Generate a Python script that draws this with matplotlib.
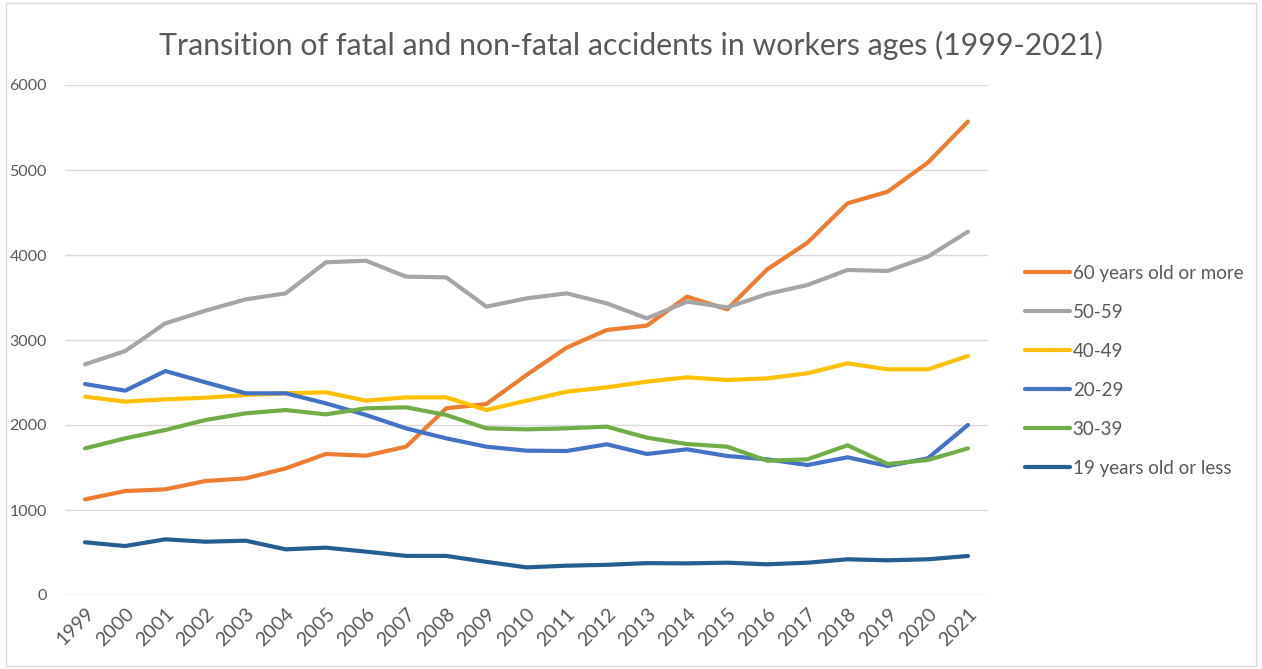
import matplotlib
matplotlib.use('Agg')
import matplotlib.pyplot as plt
from matplotlib.patches import Rectangle

plt.rcParams['font.family'] = ['Lato', 'DejaVu Sans']

years = [str(y) for y in range(1999, 2022)]

age_60_more = [1125, 1223, 1243, 1341, 1372, 1490, 1659, 1639, 1745, 2196, 2247, 2588,
               2910, 3118, 3169, 3510, 3361, 3831, 4145, 4608, 4745, 5086, 5570]
age_50_59 = [2714, 2870, 3196, 3345, 3478, 3549, 3914, 3933, 3745, 3737, 3392, 3490,
             3549, 3431, 3255, 3451, 3384, 3541, 3647, 3824, 3812, 3980, 4274]
age_40_49 = [2333, 2275, 2302, 2321, 2353, 2373, 2385, 2286, 2325, 2325, 2176, 2286,
             2392, 2443, 2510, 2561, 2529, 2549, 2608, 2726, 2655, 2655, 2812]
age_20_29 = [2482, 2404, 2635, 2502, 2373, 2373, 2255, 2118, 1960, 1843, 1745, 1698,
             1694, 1773, 1659, 1714, 1635, 1596, 1529, 1620, 1518, 1608, 2000]
age_30_39 = [1725, 1843, 1941, 2059, 2137, 2176, 2125, 2196, 2208, 2118, 1961, 1949,
             1961, 1980, 1851, 1776, 1745, 1580, 1596, 1761, 1541, 1588, 1725]
age_19_less = [620, 576, 655, 627, 639, 537, 557, 510, 460, 460, 390, 325,
               345, 355, 375, 372, 380, 361, 380, 420, 408, 420, 459]

series = [
    ('60 years old or more', age_60_more, '#ED7D31'),
    ('50-59', age_50_59, '#A5A5A5'),
    ('40-49', age_40_49, '#FFC000'),
    ('20-29', age_20_29, '#4472C4'),
    ('30-39', age_30_39, '#70AD47'),
    ('19 years old or less', age_19_less, '#255E91'),
]

fig = plt.figure(figsize=(12.62, 6.69), dpi=100)
ax = fig.add_axes([65 / 1262, 1 - 595 / 669, (988 - 65) / 1262, (595 - 85) / 669])

x = range(len(years))
for name, vals, col in series:
    ax.plot(x, vals, color=col, lw=3, label=name, solid_capstyle='round', solid_joinstyle='round')

ax.set_xlim(-0.5, len(years) - 0.5)
ax.set_ylim(0, 6000)
ax.set_yticks(range(0, 6001, 1000))
ax.set_xticks(list(x))
ax.set_xticklabels(years, rotation=45, ha='right', rotation_mode='anchor', fontsize=14)
ax.grid(axis='y', color='#D9D9D9', lw=1)
ax.set_axisbelow(True)
for s in ax.spines.values():
    s.set_visible(False)
ax.tick_params(axis='both', length=0, colors='#595959')
ax.tick_params(axis='y', pad=13, labelsize=11.5)
ax.tick_params(axis='x', pad=7)

fig.text(0.5, 1 - 45 / 669, 'Transition of fatal and non-fatal accidents in workers ages (1999-2021)',
         ha='center', va='center', fontsize=21.8, color='#595959')

leg = ax.legend(loc='upper left', bbox_to_anchor=(1008 / 1262, 1 - 248 / 669),
                bbox_transform=fig.transFigure, frameon=False, fontsize=13.5,
                handlelength=2.4, handletextpad=0.15, labelspacing=1.17, labelcolor='#595959')

fig.patches.append(Rectangle((6 / 1262, 3 / 669), 1 - 12 / 1262, 1 - 6 / 669, transform=fig.transFigure,
                             fill=False, edgecolor='#D9D9D9', lw=1))

fig.savefig('out.png', dpi=100, facecolor='white')
